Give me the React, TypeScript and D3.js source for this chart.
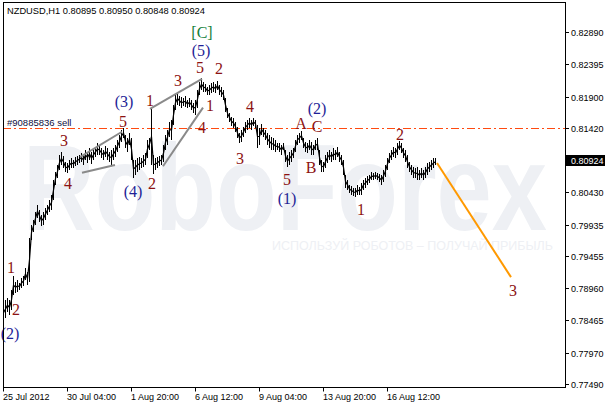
import React from "react";
import * as d3 from "d3";

const symbolTitle = "NZDUSD,H1  0.80895 0.80950 0.80848 0.80924";
const lastPrice = 0.80924;
const sellPrice = 0.8142;
const sellLabel = "#90885836 sell";

const priceTicks = [0.8289, 0.82395, 0.819, 0.8142, 0.8043, 0.79935, 0.79455, 0.7896, 0.78465, 0.7797, 0.7749];
const timeTickHours = [0, 64, 128, 192, 256, 320, 384];
const timeTickLabels = ["25 Jul 2012", "30 Jul 04:00", "1 Aug 20:00", "6 Aug 12:00", "9 Aug 04:00", "13 Aug 20:00", "16 Aug 12:00"];

const barStepHours = 2;
const barHighs = [
  0.7870, 0.7878, 0.7881, 0.7878, 0.7893, 0.7915, 0.7906, 0.7909, 0.7904, 0.7912,
  0.7915, 0.7927, 0.7921, 0.7973, 0.7993, 0.8001, 0.8013, 0.8024, 0.8016, 0.8008,
  0.8013, 0.8019, 0.8024, 0.8031, 0.8039, 0.8062, 0.8074, 0.8085, 0.8100, 0.8105,
  0.8099, 0.8090, 0.8088, 0.8093, 0.8096, 0.8093, 0.8097, 0.8099, 0.8100, 0.8103,
  0.8100, 0.8108, 0.8105, 0.8111, 0.8105, 0.8108, 0.8113, 0.8119, 0.8116, 0.8111,
  0.8108, 0.8114, 0.8111, 0.8105, 0.8108, 0.8111, 0.8116, 0.8123, 0.8131, 0.8139,
  0.8142, 0.8131, 0.8126, 0.8134, 0.8126, 0.8093, 0.8093, 0.8096, 0.8097, 0.8096,
  0.8100, 0.8103, 0.8123, 0.8126, 0.8172, 0.8100, 0.8096, 0.8097, 0.8099, 0.8100,
  0.8116, 0.8131, 0.8139, 0.8151, 0.8154, 0.8177, 0.8192, 0.8197, 0.8191, 0.8189,
  0.8188, 0.8191, 0.8185, 0.8188, 0.8185, 0.8180, 0.8185, 0.8200, 0.8212, 0.8218,
  0.8212, 0.8209, 0.8205, 0.8208, 0.8211, 0.8212, 0.8209, 0.8214, 0.8208, 0.8205,
  0.8200, 0.8188, 0.8172, 0.8165, 0.8159, 0.8157, 0.8151, 0.8143, 0.8134, 0.8139,
  0.8143, 0.8151, 0.8154, 0.8157, 0.8154, 0.8157, 0.8154, 0.8146, 0.8142, 0.8148,
  0.8142, 0.8139, 0.8134, 0.8131, 0.8128, 0.8126, 0.8123, 0.8119, 0.8119, 0.8116,
  0.8119, 0.8108, 0.8100, 0.8105, 0.8108, 0.8111, 0.8123, 0.8131, 0.8134, 0.8137,
  0.8126, 0.8120, 0.8119, 0.8123, 0.8120, 0.8116, 0.8123, 0.8126, 0.8108, 0.8093,
  0.8090, 0.8100, 0.8105, 0.8108, 0.8105, 0.8111, 0.8108, 0.8113, 0.8105, 0.8100,
  0.8093, 0.8070, 0.8062, 0.8054, 0.8053, 0.8050, 0.8050, 0.8054, 0.8051, 0.8057,
  0.8062, 0.8065, 0.8068, 0.8070, 0.8074, 0.8073, 0.8074, 0.8073, 0.8071, 0.8070,
  0.8077, 0.8085, 0.8096, 0.8103, 0.8108, 0.8113, 0.8111, 0.8119, 0.8122, 0.8119,
  0.8111, 0.8108, 0.8100, 0.8090, 0.8085, 0.8082, 0.8080, 0.8082, 0.8077, 0.8080,
  0.8077, 0.8082, 0.8088, 0.8090, 0.8093, 0.8096, 0.8095,
];
const barLows = [
  0.7847, 0.7850, 0.7859, 0.7855, 0.7863, 0.7886, 0.7889, 0.7890, 0.7893, 0.7896,
  0.7899, 0.7909, 0.7901, 0.7906, 0.7970, 0.7982, 0.7993, 0.8004, 0.7998, 0.7991,
  0.7993, 0.8001, 0.8008, 0.8013, 0.8016, 0.8031, 0.8054, 0.8065, 0.8077, 0.8085,
  0.8080, 0.8074, 0.8073, 0.8077, 0.8080, 0.8080, 0.8083, 0.8085, 0.8088, 0.8090,
  0.8085, 0.8093, 0.8088, 0.8093, 0.8086, 0.8093, 0.8097, 0.8100, 0.8100, 0.8096,
  0.8093, 0.8097, 0.8093, 0.8090, 0.8085, 0.8093, 0.8097, 0.8105, 0.8111, 0.8120,
  0.8126, 0.8111, 0.8105, 0.8116, 0.8093, 0.8065, 0.8070, 0.8074, 0.8077, 0.8080,
  0.8082, 0.8085, 0.8096, 0.8108, 0.8085, 0.8071, 0.8077, 0.8080, 0.8083, 0.8085,
  0.8090, 0.8108, 0.8116, 0.8128, 0.8123, 0.8146, 0.8169, 0.8177, 0.8176, 0.8172,
  0.8176, 0.8174, 0.8172, 0.8174, 0.8169, 0.8165, 0.8162, 0.8172, 0.8192, 0.8200,
  0.8197, 0.8197, 0.8192, 0.8192, 0.8195, 0.8197, 0.8195, 0.8200, 0.8192, 0.8189,
  0.8185, 0.8166, 0.8157, 0.8151, 0.8145, 0.8142, 0.8136, 0.8126, 0.8119, 0.8120,
  0.8128, 0.8134, 0.8139, 0.8142, 0.8139, 0.8145, 0.8142, 0.8111, 0.8116, 0.8131,
  0.8128, 0.8123, 0.8116, 0.8111, 0.8108, 0.8108, 0.8105, 0.8108, 0.8105, 0.8100,
  0.8108, 0.8090, 0.8082, 0.8085, 0.8090, 0.8096, 0.8105, 0.8116, 0.8119, 0.8123,
  0.8111, 0.8105, 0.8103, 0.8108, 0.8100, 0.8100, 0.8108, 0.8108, 0.8085, 0.8074,
  0.8074, 0.8080, 0.8088, 0.8093, 0.8090, 0.8093, 0.8093, 0.8097, 0.8090, 0.8085,
  0.8070, 0.8050, 0.8047, 0.8042, 0.8039, 0.8037, 0.8036, 0.8039, 0.8039, 0.8039,
  0.8047, 0.8050, 0.8054, 0.8057, 0.8062, 0.8062, 0.8063, 0.8062, 0.8059, 0.8054,
  0.8059, 0.8067, 0.8077, 0.8088, 0.8093, 0.8097, 0.8096, 0.8100, 0.8108, 0.8103,
  0.8096, 0.8090, 0.8080, 0.8074, 0.8070, 0.8065, 0.8065, 0.8062, 0.8062, 0.8065,
  0.8062, 0.8065, 0.8070, 0.8074, 0.8077, 0.8080, 0.8085,
];

// grey wedge lines: [hour1, price1, hour2, price2]
const wedgeLines = [
  [77, 0.8097, 119, 0.8136],
  [79, 0.8073, 112, 0.8085],
  [147, 0.8171, 199, 0.8217],
  [160, 0.8083, 200, 0.8173],
];
// forecast line
const forecastLine = [434, 0.8088, 508, 0.7913];

// wave labels: hour, price (visual centre), text, kind
const labelHours = [199, 198, 197, 216, 175, 121, 147, 207, 247, 314, 120, 298, 314, 199, 397, 61, 237, 308, 65, 149, 130, 284, 284, 358, 8, 13, 7, 510];
const labelPrices = [0.8289, 0.8261, 0.8235, 0.8233, 0.8214, 0.8182, 0.8184, 0.8176, 0.8175, 0.8172, 0.8151, 0.8149, 0.8144, 0.8142, 0.8132, 0.8123, 0.8095, 0.8081, 0.8057, 0.8057, 0.8044, 0.8062, 0.8034, 0.8017, 0.7927, 0.7863, 0.7827, 0.7893];
const labelTexts = ["[C]", "(5)", "5", "2", "3", "(3)", "1", "1", "4", "(2)", "5", "A", "C", "4", "2", "3", "3", "B", "4", "2", "(4)", "5", "(1)", "1", "1", "2", "(2)", "3"];
const labelKinds = ["g", "b", "r", "r", "r", "b", "r", "r", "r", "b", "r", "r", "r", "r", "r", "r", "r", "r", "r", "r", "b", "r", "b", "r", "r", "r", "b", "r"];

const kindColor: Record<string, string> = { r: "#8c1212", b: "#1e1e96", g: "#13803a" };

export default function App() {
  const W = 605;
  const H = 405;
  const left = 3;
  const right = 565;
  const top = 2;
  const bottom = 387;

  const x = d3.scaleLinear().domain([0, right - left]).range([left, right]);
  const y = d3.scaleLinear().domain([0.7749, 0.8289]).range([384, 32]);

  const axisFont = "'Liberation Sans', Arial, sans-serif";
  const serif = "'Liberation Serif', 'Times New Roman', serif";

  const bars = barHighs.map((h, i) => ({ t: i * barStepHours, h, l: barLows[i] }));
  const midLine = d3
    .line<{ t: number; h: number; l: number }>()
    .x((d) => x(d.t) + 0.5)
    .y((d) => y((d.h + d.l) / 2));

  return (
    <svg width={W} height={H} style={{ position: "absolute", left: 0, top: 0, background: "#fff" }}>
      <rect x={0} y={0} width={W} height={H} fill="#fff" />
      {/* watermark */}
      <g fill="#eef0f4" fontFamily={axisFont}>
        <text x={23} y={230} fontSize={122} fontWeight="bold" textLength={524} lengthAdjust="spacingAndGlyphs">
          RoboForex
        </text>
        <text x={272} y={250} fontSize={13} textLength={281} lengthAdjust="spacingAndGlyphs">
          ИСПОЛЬЗУЙ РОБОТОВ – ПОЛУЧАЙ ПРИБЫЛЬ
        </text>
      </g>

      {/* sell line */}
      <line
        x1={left}
        x2={right}
        y1={Math.round(y(sellPrice)) + 0.5}
        y2={Math.round(y(sellPrice)) + 0.5}
        stroke="#ff4a10"
        strokeWidth={1}
        strokeDasharray="8,3,2,3"
      />
      <text x={7} y={Math.round(y(sellPrice)) - 2} fontFamily={axisFont} fontSize={9.5} fill="#101040">
        {sellLabel}
      </text>

      {/* price bars */}
      <g fill="#000" shapeRendering="crispEdges">
        {bars.map((d, i) => (
          <rect key={i} x={Math.round(x(d.t))} y={y(d.h)} width={1} height={Math.max(1, y(d.l) - y(d.h))} />
        ))}
      </g>
      <path d={midLine(bars) || ""} fill="none" stroke="#000" strokeWidth={1.2} />

      {/* wedge lines */}
      {wedgeLines.map((w, i) => (
        <line key={i} x1={x(w[0])} y1={y(w[1])} x2={x(w[2])} y2={y(w[3])} stroke="#8a8a8a" strokeWidth={2} />
      ))}

      {/* forecast */}
      <line
        x1={x(forecastLine[0])}
        y1={y(forecastLine[1])}
        x2={x(forecastLine[2])}
        y2={y(forecastLine[3])}
        stroke="#ff9900"
        strokeWidth={2}
      />

      {/* wave labels */}
      {labelTexts.map((t, i) => (
        <text
          key={i}
          x={x(labelHours[i])}
          y={y(labelPrices[i]) + 5.5}
          textAnchor="middle"
          fontFamily={serif}
          fontSize={16}
          fill={kindColor[labelKinds[i]]}
        >
          {t}
        </text>
      ))}

      {/* frame */}
      <rect x={left + 0.5} y={top + 0.5} width={right - left} height={bottom - top} fill="none" stroke="#000" strokeWidth={1} />

      {/* price axis */}
      <g fontFamily={axisFont} fontSize={9} fill="#000">
        {priceTicks.map((v, i) => {
          const yy = Math.round(y(v)) + 0.5;
          return (
            <g key={i}>
              <line x1={right + 0.5} x2={right + 4} y1={yy} y2={yy} stroke="#000" />
              <text x={571} y={yy + 3.5}>
                {v.toFixed(5)}
              </text>
            </g>
          );
        })}
      </g>
      <rect x={566} y={Math.round(y(lastPrice)) - 5} width={39} height={11} fill="#000" />
      <text x={571} y={Math.round(y(lastPrice)) + 4} fontFamily={axisFont} fontSize={9} fill="#fff">
        {lastPrice.toFixed(5)}
      </text>

      {/* time axis */}
      <g fontFamily={axisFont} fontSize={9} fill="#000">
        {timeTickHours.map((h, i) => {
          const xx = Math.round(x(h)) + 0.5;
          return (
            <g key={i}>
              <line x1={xx} x2={xx} y1={bottom + 0.5} y2={bottom + 4.5} stroke="#000" />
              <text x={xx - 0.5} y={400}>
                {timeTickLabels[i]}
              </text>
            </g>
          );
        })}
      </g>

      {/* title */}
      <text x={7} y={14} fontFamily={axisFont} fontSize={9.3} fill="#000">
        {symbolTitle}
      </text>
    </svg>
  );
}
